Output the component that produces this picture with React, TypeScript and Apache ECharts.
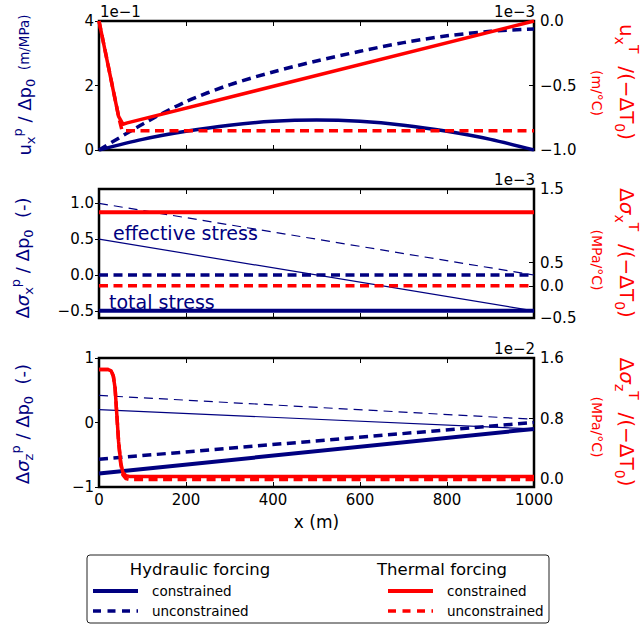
import React, { useEffect, useRef } from "react";
import * as echarts from "echarts";

const NAVY = "#000080";
const RED = "#ff0000";
const FONT = "DejaVu Sans";

// x (m)
const X_TICKS = [0, 200, 400, 600, 800, 1000];
const X_LABELS = ["0", "200", "400", "600", "800", "1000"];

// ---- Panel 1: u_x. Hydraulic (left, units 1e-1 m/MPa), thermal (right, units 1e-3 m/°C)
const U_X = [0, 100, 200, 300, 400, 500, 600, 700, 800, 900, 1000];
const U_HYD_CON = [0, 0.33, 0.58, 0.77, 0.89, 0.93, 0.89, 0.77, 0.58, 0.33, 0];
const U_HYD_UNC = [0, 0.8, 1.5, 2.02, 2.42, 2.76, 3.06, 3.33, 3.54, 3.68, 3.75];
const U_THM_CON_X = [0, 45, 55, 65, 1000];
const U_THM_CON = [0, -0.74, -0.8, -0.79, 0];
const U_THM_UNC_X = [0, 47, 53, 1000];
const U_THM_UNC = [0, -0.77, -0.85, -0.85];

// ---- Panel 2: sigma_x. Hydraulic (left, -), thermal (right, units 1e-3 MPa/°C)
const SX_X = [0, 1000];
const SX_HYD_CON_TOTAL = [-0.5, -0.5];
const SX_HYD_CON_EFF = [0.5, -0.5];
const SX_HYD_UNC_TOTAL = [0, 0];
const SX_HYD_UNC_EFF = [1.0, 0.0];
const SX_THM_CON = [1.14, 1.14];
const SX_THM_UNC = [0, 0];

// ---- Panel 3: sigma_z. Hydraulic (left, -), thermal (right, units 1e-2 MPa/°C)
const SZ_X = [0, 1000];
const SZ_HYD_CON_TOTAL = [-0.79, -0.1];
const SZ_HYD_CON_EFF = [0.2, -0.1];
const SZ_HYD_UNC_TOTAL = [-0.57, 0.0];
const SZ_HYD_UNC_EFF = [0.42, 0.05];
const SZ_THM_X = [0, 20, 28, 33, 37, 41, 45, 50, 55, 62, 70, 1000];
const SZ_THM_CON = [1.45, 1.45, 1.43, 1.36, 1.2, 0.85, 0.5, 0.22, 0.09, 0.05, 0.04, 0.04];
const SZ_THM_UNC = [1.45, 1.45, 1.43, 1.36, 1.2, 0.85, 0.5, 0.2, 0.06, 0.01, 0, 0];

// tick values and labels
const TOP_LEFT_TICKS = [0, 2, 4];
const TOP_LEFT_LABELS = ["0", "2", "4"];
const TOP_RIGHT_TICKS = [-1, -0.5, 0];
const TOP_RIGHT_LABELS = ["\u22121.0", "\u22120.5", "0.0"];
const MID_LEFT_TICKS = [-0.5, 0, 0.5, 1.0];
const MID_LEFT_LABELS = ["\u22120.5", "0.0", "0.5", "1.0"];
const MID_RIGHT_TICKS = [-0.5, 0, 0.36, 1.5];
const MID_RIGHT_LABELS = ["\u22120.5", "0.0", "0.5", "1.5"];
const BOT_LEFT_TICKS = [-1, 0, 1];
const BOT_LEFT_LABELS = ["\u22121", "0", "1"];
const BOT_RIGHT_TICKS = [0, 0.8, 1.6];
const BOT_RIGHT_LABELS = ["0.0", "0.8", "1.6"];

const GRID_LEFT = 99;
const GRID_W = 435;
const GRID_H = 129;
const GRID_TOPS = [21, 189, 358];

function fmt(ticks: number[], labels: string[]) {
  return (v: number) => {
    const i = ticks.findIndex((t) => Math.abs(t - v) < 1e-6);
    return i >= 0 ? labels[i] : "";
  };
}

function yAx(grid: number, side: "left" | "right", min: number, max: number, ticks: number[], labels: string[]) {
  const right = side === "right";
  return {
    type: "value",
    gridIndex: grid,
    position: side,
    min,
    max,
    splitLine: { show: false },
    axisLine: { show: false, onZero: false },
    axisTick: {
      show: true,
      inside: right,
      length: right ? 5 : 4,
      customValues: ticks,
      lineStyle: { color: "#000", width: 1 },
    },
    axisLabel: {
      customValues: ticks,
      formatter: fmt(ticks, labels),
      color: "#000",
      fontSize: 15,
      fontFamily: FONT,
      margin: right ? 6 : 5,
      showMinLabel: true,
      showMaxLabel: true,
    },
  };
}

function xAx(grid: number, pos: "bottom" | "top", labels: boolean) {
  return {
    type: "value",
    gridIndex: grid,
    position: pos,
    min: 0,
    max: 1000,
    interval: 200,
    splitLine: { show: false },
    axisLine: { show: false, onZero: false },
    axisTick: { show: true, inside: true, length: 5, lineStyle: { color: "#000", width: 1 } },
    axisLabel: {
      show: labels,
      formatter: fmt(X_TICKS, X_LABELS),
      color: "#000",
      fontSize: 15,
      fontFamily: FONT,
      margin: 5,
      showMinLabel: true,
      showMaxLabel: true,
    },
    name: labels ? "x (m)" : "",
    nameLocation: "middle",
    nameGap: 26,
    nameTextStyle: { color: "#000", fontSize: 17, fontFamily: FONT },
  };
}

function line(xs: number[], ys: number[], grid: number, right: boolean, color: string, width: number, dash: number[] | null, z: number, smooth: number | boolean = false) {
  return {
    type: "line",
    xAxisIndex: grid * 2,
    yAxisIndex: grid * 2 + (right ? 1 : 0),
    data: xs.map((x, i) => [x, ys[i]]),
    showSymbol: false,
    symbol: "none",
    silent: true,
    smooth,
    z,
    lineStyle: { color, width, type: dash ? dash : "solid", cap: "butt", join: "round" },
  };
}

const THICK_DASH = [9, 5.5];
const THIN_DASH = [9, 6];

function axisTitle(x: number, y: number, rot: number, text: string, color: string, size: number) {
  const sub = Math.round(size * 0.7);
  return {
    type: "text",
    x,
    y,
    rotation: rot,
    silent: true,
    style: {
      text,
      fill: color,
      fontFamily: FONT,
      fontSize: size,
      align: "center",
      verticalAlign: "middle",
      rich: {
        m: { fontSize: size, fill: color, fontFamily: FONT, lineHeight: size + 8, verticalAlign: "middle" },
        g: { fontSize: size, fill: color, fontFamily: FONT, fontStyle: "italic", lineHeight: size + 8, verticalAlign: "middle" },
        sub: { fontSize: sub, fill: color, fontFamily: FONT, lineHeight: sub, verticalAlign: "bottom" },
        sup: { fontSize: sub, fill: color, fontFamily: FONT, lineHeight: sub, verticalAlign: "top" },
        s: { fontSize: 13.5, fill: color, fontFamily: FONT, lineHeight: size + 8, verticalAlign: "middle" },
      },
    },
  };
}

function plainText(x: number, y: number, text: string, size: number, color: string, align = "left", rot = 0) {
  return {
    type: "text",
    x,
    y,
    rotation: rot,
    silent: true,
    style: { text, fill: color, fontFamily: FONT, fontSize: size, align, verticalAlign: "middle" },
  };
}

export default function App() {
  const ref = useRef<HTMLDivElement>(null);
  useEffect(() => {
    if (!ref.current) return;
    const chart = echarts.init(ref.current, null, { renderer: "svg" });

    const grids = GRID_TOPS.map((top) => ({
      left: GRID_LEFT,
      top,
      width: GRID_W,
      height: GRID_H,
      show: true,
      borderColor: "#000",
      borderWidth: 2.5,
      backgroundColor: "transparent",
    }));

    const xAxis = [
      xAx(0, "bottom", false), xAx(0, "top", false),
      xAx(1, "bottom", false), xAx(1, "top", false),
      xAx(2, "bottom", true), xAx(2, "top", false),
    ];
    const yAxis = [
      yAx(0, "left", 0, 4, TOP_LEFT_TICKS, TOP_LEFT_LABELS),
      yAx(0, "right", -1, 0, TOP_RIGHT_TICKS, TOP_RIGHT_LABELS),
      yAx(1, "left", -0.6, 1.2, MID_LEFT_TICKS, MID_LEFT_LABELS),
      yAx(1, "right", -0.5, 1.5, MID_RIGHT_TICKS, MID_RIGHT_LABELS),
      yAx(2, "left", -1, 1, BOT_LEFT_TICKS, BOT_LEFT_LABELS),
      yAx(2, "right", -0.1, 1.6, BOT_RIGHT_TICKS, BOT_RIGHT_LABELS),
    ];

    const series = [
      // panel 1
      line(U_X, U_HYD_CON, 0, false, NAVY, 3.5, null, 2, 0.3),
      line(U_X, U_HYD_UNC, 0, false, NAVY, 3.5, THICK_DASH, 2, 0.3),
      line(U_THM_UNC_X, U_THM_UNC, 0, true, RED, 3.5, THICK_DASH, 3),
      line(U_THM_CON_X, U_THM_CON, 0, true, RED, 3.5, null, 4),
      // panel 2
      line(SX_X, SX_HYD_CON_TOTAL, 1, false, NAVY, 4, null, 2),
      line(SX_X, SX_HYD_CON_EFF, 1, false, NAVY, 1.2, null, 2),
      line(SX_X, SX_HYD_UNC_TOTAL, 1, false, NAVY, 3.5, THICK_DASH, 2),
      line(SX_X, SX_HYD_UNC_EFF, 1, false, NAVY, 1.2, THIN_DASH, 2),
      line(SX_X, SX_THM_UNC, 1, true, RED, 3.5, THICK_DASH, 3),
      line(SX_X, SX_THM_CON, 1, true, RED, 4, null, 4),
      // panel 3
      line(SZ_X, SZ_HYD_CON_TOTAL, 2, false, NAVY, 4, null, 2),
      line(SZ_X, SZ_HYD_CON_EFF, 2, false, NAVY, 1.2, null, 2),
      line(SZ_X, SZ_HYD_UNC_TOTAL, 2, false, NAVY, 3.5, THICK_DASH, 2),
      line(SZ_X, SZ_HYD_UNC_EFF, 2, false, NAVY, 1.2, THIN_DASH, 2),
      line(SZ_THM_X, SZ_THM_UNC, 2, true, RED, 3.5, THICK_DASH, 3),
      line(SZ_THM_X, SZ_THM_CON, 2, true, RED, 3.5, null, 4),
    ];

    const graphic: any[] = [
      // offset texts
      plainText(100, 12, "1e\u22121", 15, "#000", "left"),
      plainText(535, 12, "1e\u22123", 15, "#000", "right"),
      plainText(535, 180, "1e\u22123", 15, "#000", "right"),
      plainText(535, 349, "1e\u22122", 15, "#000", "right"),
      // annotations
      plainText(113, 233, "effective stress", 19, NAVY, "left"),
      plainText(109, 302, "total stress", 19, NAVY, "left"),
      // left axis titles
      axisTitle(24, 85, Math.PI / 2, "{m|u}{sub|x}{sup|p}{m| / Δp}{sub|0}{s|  (m/MPa)}", NAVY, 18),
      axisTitle(22, 258, Math.PI / 2, "{m|Δ}{g|σ}{sub|x}{sup|p}{m| / Δp}{sub|0}{m|  (-)}", NAVY, 18),
      axisTitle(22, 424, Math.PI / 2, "{m|Δ}{g|σ}{sub|z}{sup|p}{m| / Δp}{sub|0}{m|  (-)}", NAVY, 18),
      // right axis titles
      axisTitle(627, 82, -Math.PI / 2, "{m|u}{sub|x}{sup|T}{m|  /(−ΔT}{sub|0}{m|)}", RED, 20),
      plainText(597, 93, "(m/°C)", 14, RED, "center", -Math.PI / 2),
      axisTitle(627, 253, -Math.PI / 2, "{m|Δ}{g|σ}{sub|x}{sup|T}{m|  /(−ΔT}{sub|0}{m|)}", RED, 20),
      plainText(597, 260, "(MPa/°C)", 14, RED, "center", -Math.PI / 2),
      axisTitle(627, 422, -Math.PI / 2, "{m|Δ}{g|σ}{sub|z}{sup|T}{m|  /(−ΔT}{sub|0}{m|)}", RED, 20),
      plainText(597, 427, "(MPa/°C)", 14, RED, "center", -Math.PI / 2),
      // legend
      {
        type: "rect",
        shape: { x: 87, y: 555, width: 462, height: 68, r: 3 },
        style: { fill: "#fff", stroke: "#222", lineWidth: 1 },
        silent: true,
      },
      plainText(200, 569, "Hydraulic forcing", 16.5, "#000", "center"),
      plainText(442, 569, "Thermal forcing", 16.5, "#000", "center"),
      { type: "line", shape: { x1: 93, y1: 591, x2: 138, y2: 591 }, style: { stroke: NAVY, lineWidth: 4 }, silent: true },
      { type: "line", shape: { x1: 93, y1: 611, x2: 138, y2: 611 }, style: { stroke: NAVY, lineWidth: 3.5, lineDash: [8, 6.5] }, silent: true },
      { type: "line", shape: { x1: 388, y1: 591, x2: 433, y2: 591 }, style: { stroke: RED, lineWidth: 4 }, silent: true },
      { type: "line", shape: { x1: 388, y1: 611, x2: 433, y2: 611 }, style: { stroke: RED, lineWidth: 3.5, lineDash: [8, 6.5] }, silent: true },
      plainText(152, 591, "constrained", 13.5, "#000", "left"),
      plainText(152, 611, "unconstrained", 13.5, "#000", "left"),
      plainText(447, 591, "constrained", 13.5, "#000", "left"),
      plainText(447, 611, "unconstrained", 13.5, "#000", "left"),
    ];

    chart.setOption({
      animation: false,
      backgroundColor: "#fff",
      textStyle: { fontFamily: FONT },
      grid: grids,
      xAxis,
      yAxis,
      series,
      graphic,
    });
    return () => chart.dispose();
  }, []);

  return (
    <div
      ref={ref}
      style={{ position: "absolute", left: 0, top: 0, width: 644, height: 625 }}
    />
  );
}
